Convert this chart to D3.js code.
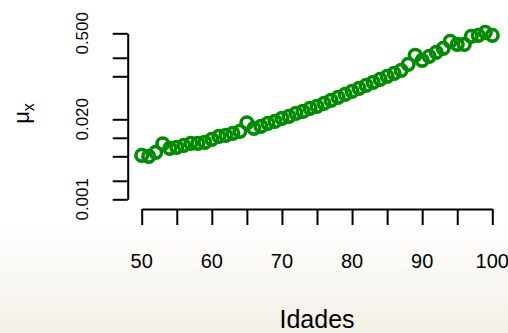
<!DOCTYPE html>
<html><head><meta charset="utf-8">
<script src="https://cdn.jsdelivr.net/npm/d3@7"></script>
<style>
html,body{margin:0;padding:0;background:#fff;}
svg{display:block;}
text{font-family:"Liberation Sans",Arial,Helvetica,sans-serif;fill:#000;}
</style></head>
<body>
<script>
const ages = d3.range(50, 101);
const mu = [0.00519,0.00500,0.00581,0.00800,0.00675,0.00701,0.00755,0.00814,0.00814,0.00845,
            0.00945,0.01058,0.01098,0.01184,0.01276,0.01750,0.01427,0.01538,0.01721,0.01855,
            0.02076,0.02237,0.02502,0.02697,0.03017,0.03252,0.03639,0.04072,0.04555,0.05096,
            0.05702,0.0638,0.0714,0.0799,0.0894,0.100,0.1119,0.1252,0.1567,0.2200,
            0.182,0.2114,0.2456,0.2853,0.370,0.3313,0.3292,0.4471,0.4642,0.5193,0.4642];
const xTicks = [50,55,60,65,70,75,80,85,90,95,100];
const xLabels = [50,60,70,80,90,100];
const yTicks = [0.001,0.002,0.005,0.01,0.02,0.1,0.2,0.5];
const yLabels = [0.001,0.02,0.5];

const W = 508, H = 333;
const svg = d3.select("body").append("svg").attr("width", W).attr("height", H);
const defs = svg.append("defs");
const grad = defs.append("linearGradient").attr("id","bg").attr("x1",0).attr("y1",0).attr("x2",0).attr("y2",1);
grad.append("stop").attr("offset","0.66").attr("stop-color","#ffffff");
grad.append("stop").attr("offset","1").attr("stop-color","#f3f0e7");
svg.append("rect").attr("width",W).attr("height",H).attr("fill","url(#bg)");

const x = d3.scaleLinear().domain([50,100]).range([141.7,492.3]);
const y = d3.scaleLog().domain([0.001,0.5]).range([199.3,33.3]);

// x axis
const gx = svg.append("g").attr("transform","translate(0,209)")
  .call(d3.axisBottom(x).tickValues(xTicks).tickFormat("").tickSize(16).tickSizeOuter(0));
gx.selectAll("path,line").attr("stroke","#000").attr("stroke-width",2);
svg.append("g").selectAll("text").data(xLabels).join("text")
  .attr("x", d => x(d)).attr("y", 267.5).attr("text-anchor","middle")
  .attr("font-size", 20).text(d => d);

// y axis
const gy = svg.append("g").attr("transform","translate(127.7,0)")
  .call(d3.axisLeft(y).tickValues(yTicks).tickFormat("").tickSize(15).tickSizeOuter(0));
gy.selectAll("path,line").attr("stroke","#000").attr("stroke-width",2);
const fmt = d3.format(".3f");
svg.append("g").selectAll("text").data(yLabels).join("text")
  .attr("transform", d => `translate(88.3,${y(d)}) rotate(-90)`)
  .attr("text-anchor","middle").attr("font-size", 17).text(d => fmt(d));

// axis titles
svg.append("text").attr("x", 317).attr("y", 328).attr("text-anchor","middle")
  .attr("font-size", 25).text("Idades");
const yl = svg.append("text").attr("transform","translate(28.5,113.5) rotate(-90)")
  .attr("text-anchor","middle").attr("font-size", 22);
yl.append("tspan").text("μ");
yl.append("tspan").attr("font-size", 16).attr("dy", 5).text("x");

// points
svg.append("g").selectAll("circle").data(ages).join("circle")
  .attr("cx", (d,i) => x(d)).attr("cy", (d,i) => y(mu[i])).attr("r", 5.8)
  .attr("fill","none").attr("stroke","#008b00").attr("stroke-width", 3.6);
</script>
</body></html>
